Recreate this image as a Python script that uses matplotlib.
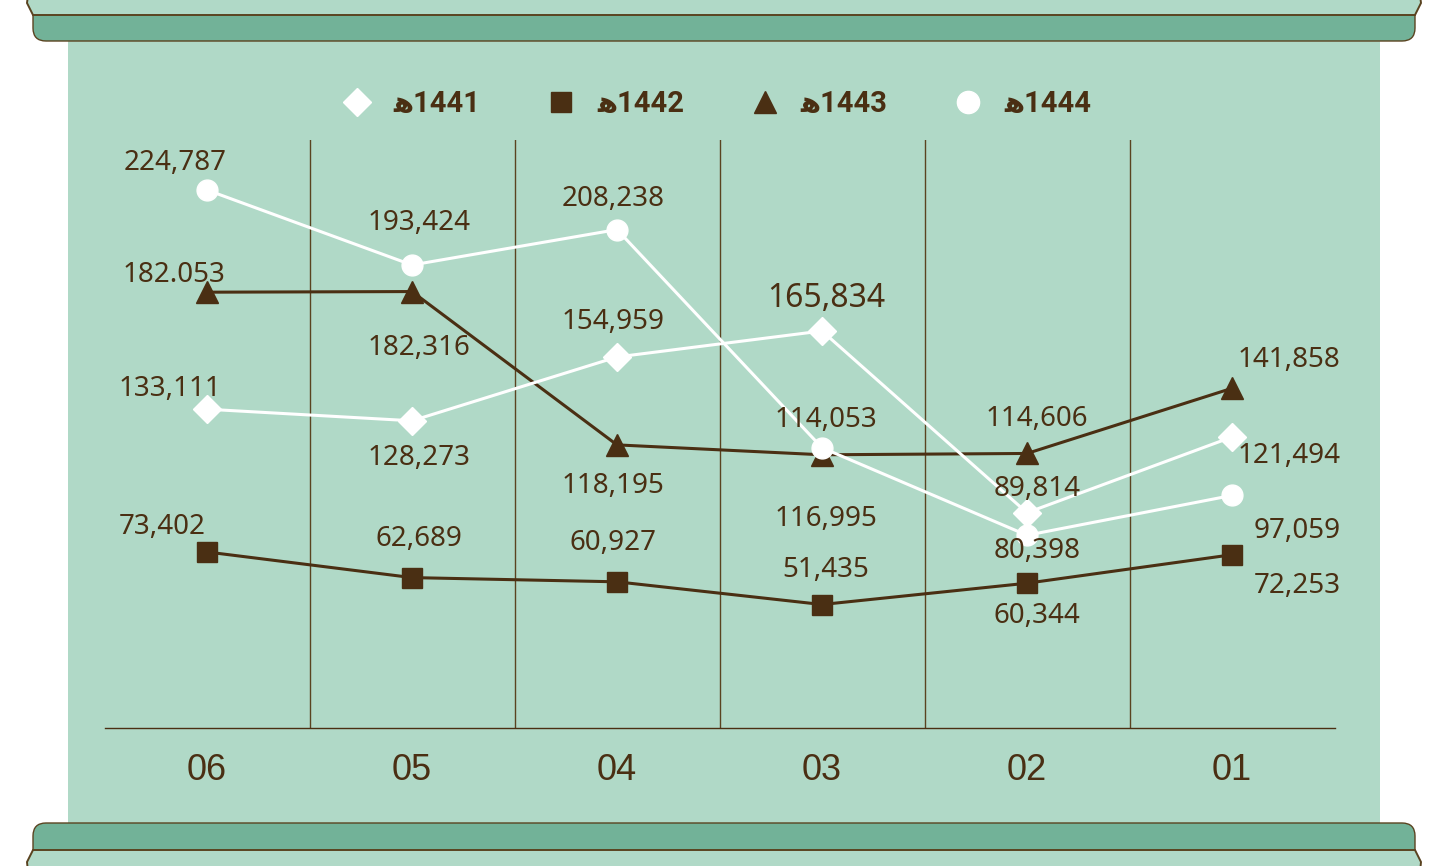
import matplotlib
matplotlib.use('Agg')
import matplotlib.pyplot as plt
from matplotlib.patches import FancyBboxPatch, Rectangle, Polygon
from matplotlib.lines import Line2D

# data
months = ['06', '05', '04', '03', '02', '01']
s1441 = [133111, 128273, 154959, 165834, 89814, 121494]
s1442 = [73402, 62689, 60927, 51435, 60344, 72253]
s1443 = [182053, 182316, 118195, 114053, 114606, 141858]
s1444 = [224787, 193424, 208238, 116995, 80398, 97059]
legend_labels = ['\uFEEB1441', '\uFEEB1442', '\uFEEB1443', '\uFEEB1444']

# colours
BROWN = '#4a2f13'
PANEL = '#b0d9c7'
BAND = '#72b298'
WHITE = '#ffffff'

fig = plt.figure(figsize=(14.33, 8.66), dpi=100)
fig.patch.set_facecolor('white')

# background scroll, drawn in pixel coords
bg = fig.add_axes([0, 0, 1, 1], zorder=0)
bg.set_xlim(0, 1433)
bg.set_ylim(866, 0)
bg.axis('off')

bg.add_patch(Rectangle((68, 35), 1312, 795, facecolor=PANEL, edgecolor='none'))

# top roll
bg.add_patch(FancyBboxPatch((33, 0), 1382, 41, boxstyle='round,pad=0,rounding_size=13',
                            facecolor=BAND, edgecolor='#5a4320', linewidth=1.0))
bg.add_patch(Polygon([(28, -5), (1420, -5), (1421, 3), (1415, 15), (33, 15), (27, 3)],
                     closed=True, facecolor=PANEL, edgecolor='#5a4320', linewidth=1.4))
# bottom roll
bg.add_patch(FancyBboxPatch((33, 823), 1382, 45, boxstyle='round,pad=0,rounding_size=13',
                            facecolor=BAND, edgecolor='#5a4320', linewidth=1.0))
bg.add_patch(Polygon([(33, 850), (1415, 850), (1421, 862), (1420, 872), (28, 872), (27, 862)],
                     closed=True, facecolor=PANEL, edgecolor='#5a4320', linewidth=1.4))

# main chart axes
ax = fig.add_axes([104.5 / 1433, (866 - 727.5) / 866, 1230 / 1433, 587.5 / 866], zorder=2)
ax.patch.set_alpha(0)
x = list(range(len(months)))
ax.set_xlim(-0.5, len(months) - 0.5)
ax.set_ylim(0, 245700)

for s in ['top', 'left', 'right']:
    ax.spines[s].set_visible(False)
ax.spines['bottom'].set_color(BROWN)
ax.spines['bottom'].set_linewidth(1.0)

for i in range(len(months) - 1):
    ax.axvline(i + 0.5, color='#5a4320', linewidth=1.0, zorder=1)

ax.set_yticks([])
ax.set_xticks(x)
ax.set_xticklabels(months, fontsize=26, color=BROWN, family='Liberation Sans')
ax.tick_params(axis='x', length=0, pad=18)

series = [
    (s1442, 's', BROWN, 14, 3),
    (s1443, '^', BROWN, 16, 4),
    (s1441, 'D', WHITE, 14, 5),
    (s1444, 'o', WHITE, 15, 6),
]
for vals, mk, col, ms, z in series:
    ax.plot(x, vals, color=col, linewidth=2.2, marker=mk, markersize=ms,
            markerfacecolor=col, markeredgecolor=col, zorder=z, clip_on=False)

# label offsets in pixels (dx, dy downwards)
offsets = {
    '1444': [(-32, -27), (7, -42), (-4, -31), (4, 71), (10, 16), (65, 36)],
    '1443': [(-33, -17), (7, 56), (-4, 41), (4, -35), (10, -34), (57, -28)],
    '1441': [(-37, -20), (7, 37), (-4, -35), (4, -32), (10, -24), (57, 19)],
    '1442': [(-45, -25), (7, -39), (-4, -39), (4, -35), (10, 33), (65, 31)],
}
label_override = {('1443', 0): '182.053'}
big_labels = {('1441', 3)}

for name, vals in [('1444', s1444), ('1443', s1443), ('1441', s1441), ('1442', s1442)]:
    for i, v in enumerate(vals):
        txt = label_override.get((name, i), f'{v:,}')
        dx, dy = offsets[name][i]
        fs = 23 if (name, i) in big_labels else 20
        ax.annotate(txt, (i, v), xytext=(dx, -dy), textcoords='offset pixels',
                    ha='center', va='center', fontsize=fs, color=BROWN,
                    family='Noto Sans', zorder=7, annotation_clip=False)

# legend
handles = [
    Line2D([], [], linestyle='none', marker='D', markersize=14, color=WHITE),
    Line2D([], [], linestyle='none', marker='s', markersize=14, color=BROWN),
    Line2D([], [], linestyle='none', marker='^', markersize=16, color=BROWN),
    Line2D([], [], linestyle='none', marker='o', markersize=16, color=WHITE),
]
fig.legend(handles, legend_labels, ncol=4, frameon=False, loc='center',
           bbox_to_anchor=(717 / 1433, 1 - 104 / 866),
           prop=dict(family=['Roboto', 'DejaVu Sans'], weight='bold', size=21), labelcolor=BROWN,
           handlelength=1.0, handletextpad=0.74, columnspacing=2.26)

fig.savefig('out.png', dpi=100, facecolor='white')
plt.close(fig)
